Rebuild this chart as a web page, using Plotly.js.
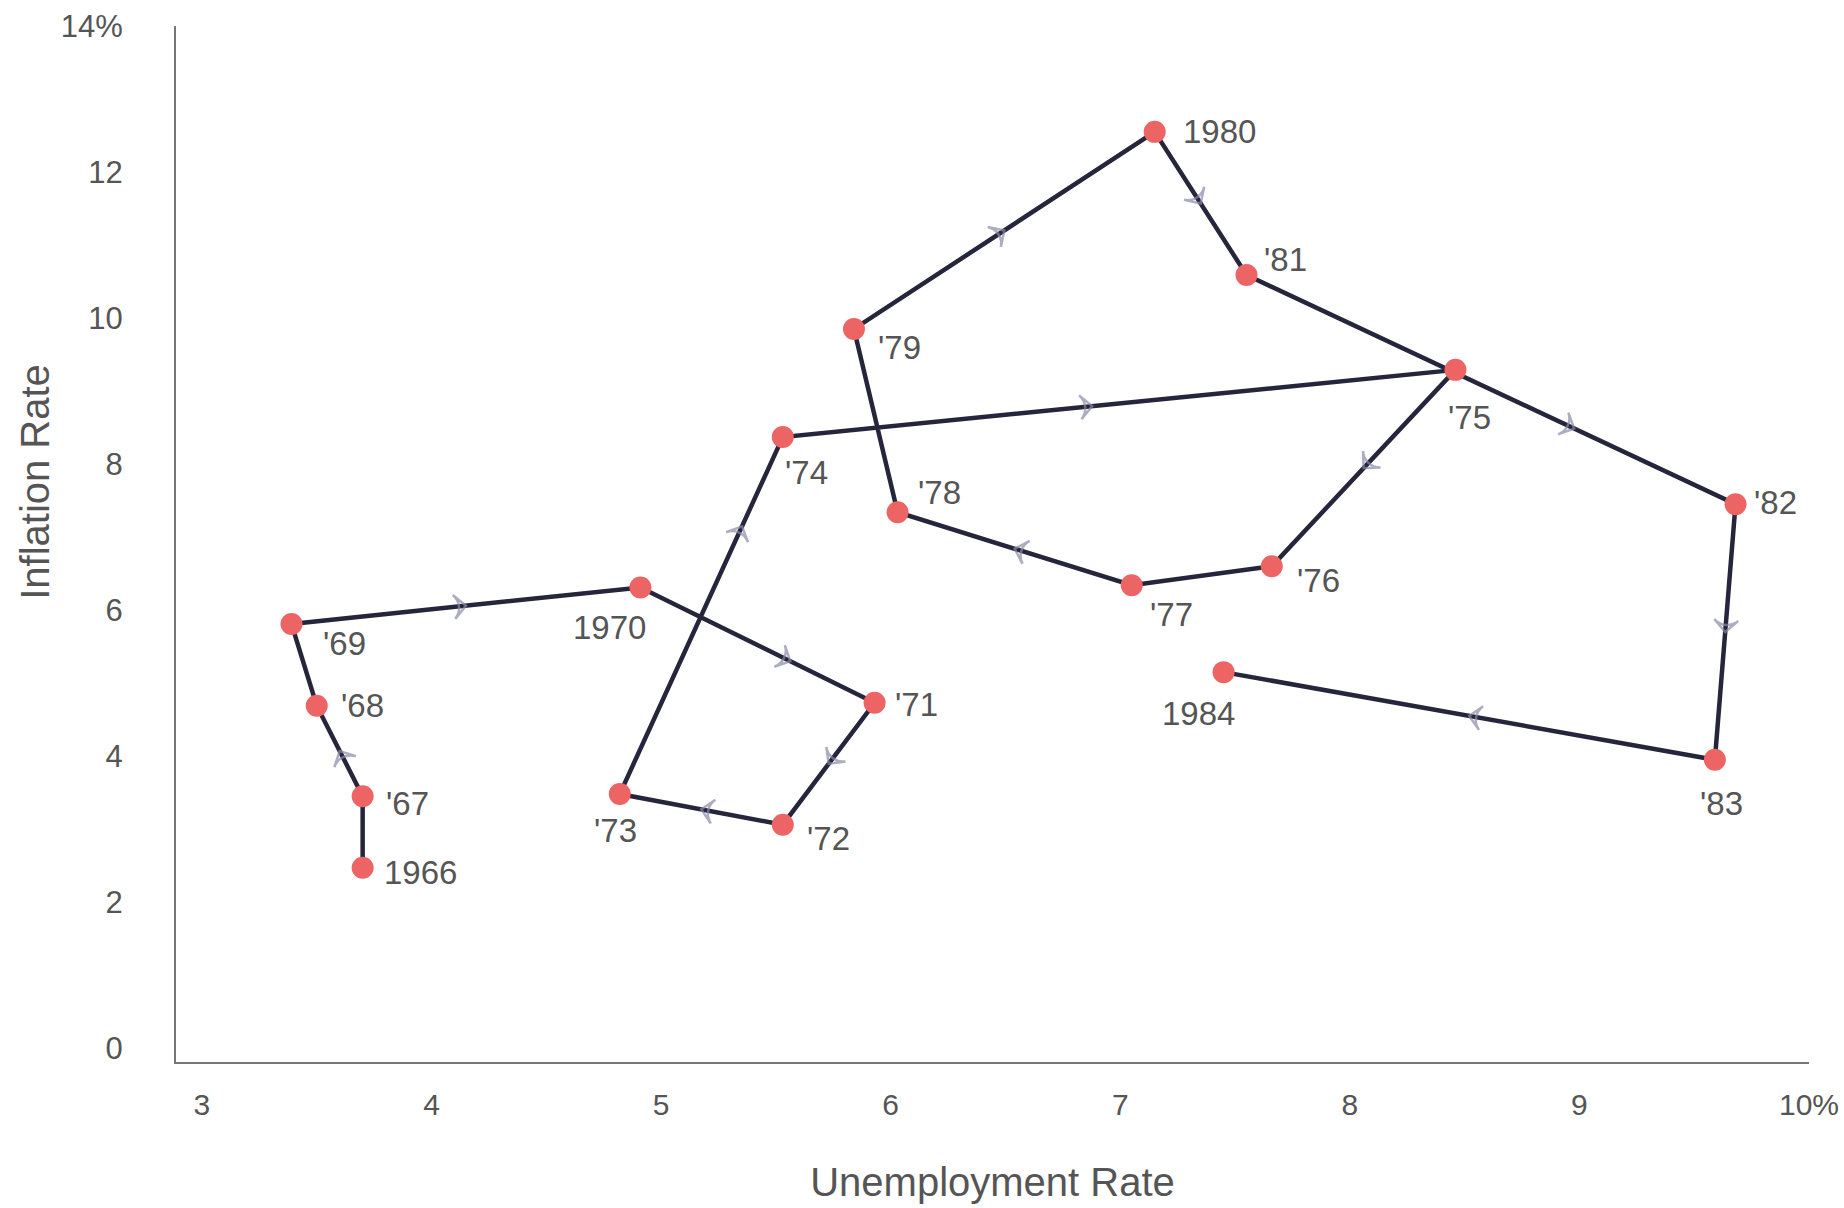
<!DOCTYPE html>
<html>
<head>
<meta charset="utf-8">
<script src="https://cdn.plot.ly/plotly-3.0.1.min.js"></script>
<style>
html,body{margin:0;padding:0;background:#fff;}
#chart{width:1844px;height:1208px;}
</style>
</head>
<body>
<div id="chart"></div>
<script>
// ---- data ----
const years = ["1966","'67","'68","'69","1970","'71","'72","'73","'74","'75","'76","'77","'78","'79","1980","'81","'82","'83","1984"];
const unemployment = [3.70,3.70,3.50,3.39,4.91,5.93,5.53,4.82,5.53,8.46,7.66,7.05,6.03,5.84,7.15,7.55,9.68,9.59,7.45];
const inflation    = [2.47,3.45,4.69,5.81,6.31,4.73,3.06,3.48,8.37,9.29,6.60,6.34,7.34,9.85,12.55,10.59,7.45,3.95,5.15];

const xTickVals = [3,4,5,6,7,8,9,10];
const xTickText = ["3","4","5","6","7","8","9","10%"];
const yTickVals = [0,2,4,6,8,10,12,14];
const yTickText = ["0","2","4","6","8","10","12","14%"];

// segments (start index) that carry a direction arrow
const arrowSegments = [1,3,4,5,6,7,8,9,11,13,14,15,16,17];

// ---- styling / placement ----
const arrowFraction = {4:0.64, 7:0.75, 8:0.46, 15:0.67};
const labelOffsets = [ // [xshift, yshift] in px
  [58,-5],[45,-7],[46,0],[53,-20],[-31,-40],[42,-2],[46,-14],[-4,-36],[24,-35],
  [14,-48],[47,-14],[40,-29],[42,20],[46,-19],[65,0],[39,15],[40,2],[7,-44],[-25,-41]
];

const ax = [], ay = [], asz = [];
arrowSegments.forEach(i => {
  const f = arrowFraction[i] !== undefined ? arrowFraction[i] : 0.5;
  ax.push(unemployment[i]); ay.push(inflation[i]); asz.push(0);
  ax.push(unemployment[i] + f*(unemployment[i+1]-unemployment[i]));
  ay.push(inflation[i] + f*(inflation[i+1]-inflation[i]));
  asz.push(17);
});

const font = "Liberation Sans, Arial, sans-serif";
const textColor = "#555555";

const traces = [
  {
    x: unemployment, y: inflation, mode: "lines", type: "scatter",
    line: {color: "#25253c", width: 4.5},
    hoverinfo: "skip", showlegend: false
  },
  {
    x: ax, y: ay, mode: "markers", type: "scatter",
    marker: {symbol: "arrow-wide-open", angleref: "previous", size: asz,
             color: "#8a8aa6", line: {color: "#8a8aa6", width: 2.5}},
    hoverinfo: "skip", showlegend: false
  },
  {
    x: unemployment, y: inflation, mode: "markers", type: "scatter",
    text: years,
    marker: {color: "#ec6464", size: 22, line: {width: 0}},
    hovertemplate: "%{text}<br>Unemployment %{x}%<br>Inflation %{y}%<extra></extra>",
    showlegend: false
  }
];

const annotations = years.map((t, i) => ({
  x: unemployment[i], y: inflation[i], xref: "x", yref: "y",
  text: t, showarrow: false, xanchor: "center", yanchor: "middle",
  xshift: labelOffsets[i][0], yshift: labelOffsets[i][1],
  font: {family: font, size: 33, color: textColor}
}));

// y-axis title placed as in the reference (slightly above the axis centre)
annotations.push({
  x: 0, y: 0.56, xref: "paper", yref: "paper", xanchor: "center", yanchor: "middle",
  xshift: -141, textangle: -90, showarrow: false,
  text: "Inflation Rate", font: {family: font, size: 40, color: textColor}
});

const layout = {
  width: 1844, height: 1208,
  paper_bgcolor: "#ffffff", plot_bgcolor: "#ffffff",
  margin: {l: 176, r: 35, t: 26, b: 146},
  font: {family: font, color: textColor},
  xaxis: {
    range: [2.887, 10.0], tickvals: xTickVals, ticktext: xTickText,
    showgrid: false, zeroline: false, showline: true, linecolor: "#777777", linewidth: 2,
    ticks: "", ticklabelstandoff: 15, ticklabeloverflow: "allow",
    tickfont: {family: font, size: 30, color: textColor},
    title: {text: "Unemployment Rate", font: {family: font, size: 40, color: textColor}, standoff: 48},
    automargin: false, fixedrange: true
  },
  yaxis: {
    range: [-0.19, 14.0], tickvals: yTickVals, ticktext: yTickText,
    showgrid: false, zeroline: false, showline: true, linecolor: "#777777", linewidth: 2,
    ticks: "", ticklabelstandoff: 45, ticklabeloverflow: "allow",
    tickfont: {family: font, size: 31, color: textColor},
    automargin: false, fixedrange: true
  },
  annotations: annotations,
  showlegend: false
};

Plotly.newPlot("chart", traces, layout, {displayModeBar: false});
</script>
</body>
</html>
